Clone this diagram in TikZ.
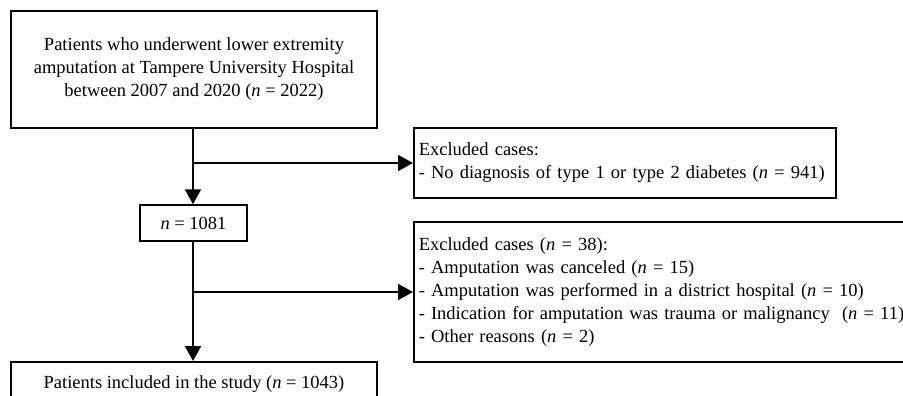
\documentclass[tikz,border=0pt]{standalone}
\usepackage{fontspec}
\setmainfont{Liberation Serif}
\usepackage{tikz}
\usetikzlibrary{arrows.meta}
\usetikzlibrary{positioning}
\tikzstyle{block} = [draw, line width=1.5pt, inner sep=0pt,
	font=\fontsize{18.5}{23}\selectfont]
\tikzstyle{exclbox} = [block, align=left, inner xsep=5pt, anchor=west]
\tikzstyle{arrow} =[-{Triangle[length=15pt, width=16pt]}, line width=2pt]
\newcommand{\nn}[1]{(\textit{n} = #1)}

\begin{document}
\begin{tikzpicture}[x=1pt, y=-1pt]
			\useasboundingbox (0,0) rectangle (903,396);
			\clip (0,0) rectangle (903,396);
			\node (source) [block, minimum width=366pt, minimum height=117pt, align=center] at (194,69.5)
				{Patients who underwent lower extremity\\amputation at Tampere University Hospital\\between 2007 and 2020 \nn{2022}};
			
			\node (diab) [exclbox, text width=412pt, minimum height=70pt] at (413,163)
				{Excluded cases:\\- No diagnosis of type 1 or type 2 diabetes \nn{941}};
			
			\node (mid) [block, minimum width=107pt, minimum height=36pt] at (193.5,223) {\textit{n} = 1081};
			
			\node (other) [exclbox, text width=500pt, minimum height=140pt] at (413,292)
				{Excluded cases \nn{38}:\\
				- Amputation was canceled \nn{15}\\
				- Amputation was performed in a district hospital \nn{10}\\
				- Indication for amputation was trauma or malignancy \ \nn{11}\\
				- Other reasons \nn{2}};
			
			\node (incl) [block, minimum width=366pt, minimum height=44pt, anchor=north] at (194,361)
				{Patients included in the study \nn{1043}};
			
			\coordinate (br1) at (193,163);
			\coordinate (br2) at (193,292);
			\draw [arrow] (source.south -| br1) -- (br1 |- mid.north);
			\draw [arrow] (br1) -- (diab.west);
			\draw [arrow] (mid.south -| br2) -- (br2 |- incl.north);
			\draw [arrow] (br2) -- (other.west);
		\end{tikzpicture}
\end{document}
